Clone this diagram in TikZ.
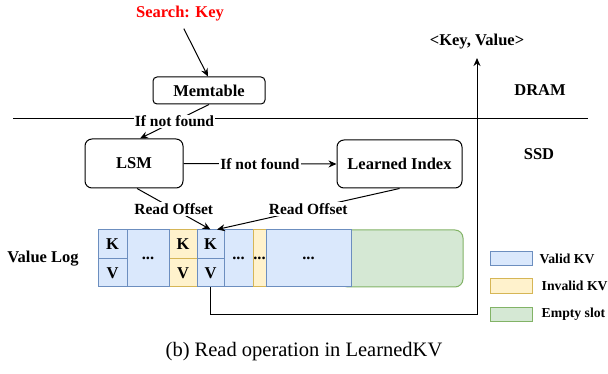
\documentclass[tikz,border=0pt]{standalone}
\usepackage{fontspec}
\setmainfont{Liberation Serif}
\usepackage{tikz}
\usetikzlibrary{arrows,arrows.meta,positioning}
\definecolor{validfill}{HTML}{DAE8FC}
\definecolor{validline}{HTML}{6C8EBF}
\definecolor{invalidfill}{HTML}{FFF2CC}
\definecolor{invalidline}{HTML}{D6B656}
\definecolor{emptyfill}{HTML}{D5E8D4}
\definecolor{emptyline}{HTML}{82B366}
\definecolor{searchred}{HTML}{FF0000}
\newcommand{\boxfont}{\bfseries\fontsize{16.5}{19}\selectfont}
\newcommand{\lblfont}{\bfseries\fontsize{15.5}{18}\selectfont}
\newcommand{\legfont}{\bfseries\fontsize{13.7}{16}\selectfont}

\begin{document}
\begin{tikzpicture}[x=1pt, y=-1pt,
    box/.style={draw, line width=1pt, rounded corners=7pt, font=\boxfont},
    lbl/.style={fill=white, inner sep=1pt, font=\lblfont},
    cell/.style={draw=#1line, fill=#1fill, line width=1pt, inner sep=0pt, font=\boxfont},
    leg/.style={inner sep=1pt, font=\legfont},
    flow/.style={-{Stealth[length=8pt,width=7pt]}, line width=1pt}]
  \useasboundingbox (0,0) rectangle (608,374);
  \pgfmathsetmacro{\logtop}{230}
  \pgfmathsetmacro{\logbot}{287}
  \pgfmathsetmacro{\loghalf}{(\logbot-\logtop)/2}

  % DRAM / SSD border
  \draw[line width=1pt] (13,119) -- (588,119);
  \node[font=\boxfont] (dram) at (540,90) {DRAM};
  \node[font=\boxfont] (ssd) at (539,154) {SSD};

  \node[font=\boxfont, text=searchred] (search) at (180,14) {Search: Key};
  \node[box, rounded corners=4pt, minimum width=112pt, minimum height=27pt] (mem) at (209,90.5) {Memtable};
  \node[box, minimum width=98pt, minimum height=49pt] (lsm) at (134,163.5) {LSM};
  \node[box, minimum width=125pt, minimum height=48pt] (li) at (399.5,164) {Learned Index};
  \node[font=\boxfont] (result) at (477,42) {<Key, Value>};
  \node[font=\boxfont] (vlog) at (43,259) {Value Log};

  % value log: free space first, cells on top
  \draw[emptyline, fill=emptyfill, line width=1pt, rounded corners=8pt] (340,\logtop) rectangle (463,\logbot);
  \foreach \i/\kind/\xa/\xb in {1/valid/98/127, 3/invalid/169/197, 4/valid/197/224}{
    \pgfmathsetmacro{\w}{\xb-\xa}
    \node[cell=\kind, minimum width=\w pt, minimum height=\loghalf pt] (k\i) at ({(\xa+\xb)/2},{\logtop+\loghalf/2}) {K};
    \node[cell=\kind, minimum width=\w pt, minimum height=\loghalf pt] (v\i) at ({(\xa+\xb)/2},{\logbot-\loghalf/2}) {V};
  }
  \foreach \i/\kind/\xa/\xb in {2/valid/127/169, 5/valid/224/253, 6/invalid/253/266, 7/valid/266/351}{
    \pgfmathsetmacro{\w}{\xb-\xa}
    \node[cell=\kind, minimum width=\w pt, minimum height={2*\loghalf pt}] (d\i) at ({(\xa+\xb)/2},{(\logtop+\logbot)/2}) {...};
  }

  % legend
  \node[cell=valid, minimum width=42pt, minimum height=14pt] (legvalid) at (511,259) {};
  \node[cell=invalid, minimum width=42pt, minimum height=14pt] (leginvalid) at (511,286) {};
  \node[cell=empty, minimum width=42pt, minimum height=14pt] (legempty) at (511,314.5) {};
  \node[leg, right=6pt of legvalid] (txtvalid) {Valid KV};
  \node[leg, right=8pt of leginvalid] (txtinvalid) {Invalid KV};
  \node[leg, right=8pt of legempty] (txtempty) {Empty slot};

  % read path
  \draw[flow, shorten <=4pt] ([xshift=2pt]search.south) -- ([xshift=-1pt]mem.north);
  \draw[flow] (mem.south) -- node[lbl] (nf1) {If not found} ([xshift=6pt]lsm.north);
  \draw[flow] (lsm.east) -- node[lbl] (nf2) {If not found} (li.west);
  \draw[flow] ([xshift=3pt]lsm.south) -- node[lbl] (ro1) {Read Offset} (k4.north);
  \draw[flow] (li.south) -- node[lbl] (ro2) {Read Offset} ([xshift=6.5pt]k4.north);
  \coordinate (turn) at (477,314);
  \draw[flow, shorten >=5pt] (v4.south) |- (turn) -- (result.south);

  \node[font=\fontsize{20.5}{24}\selectfont] (caption) at (304,352) {(b) Read operation in LearnedKV};
\end{tikzpicture}
\end{document}
